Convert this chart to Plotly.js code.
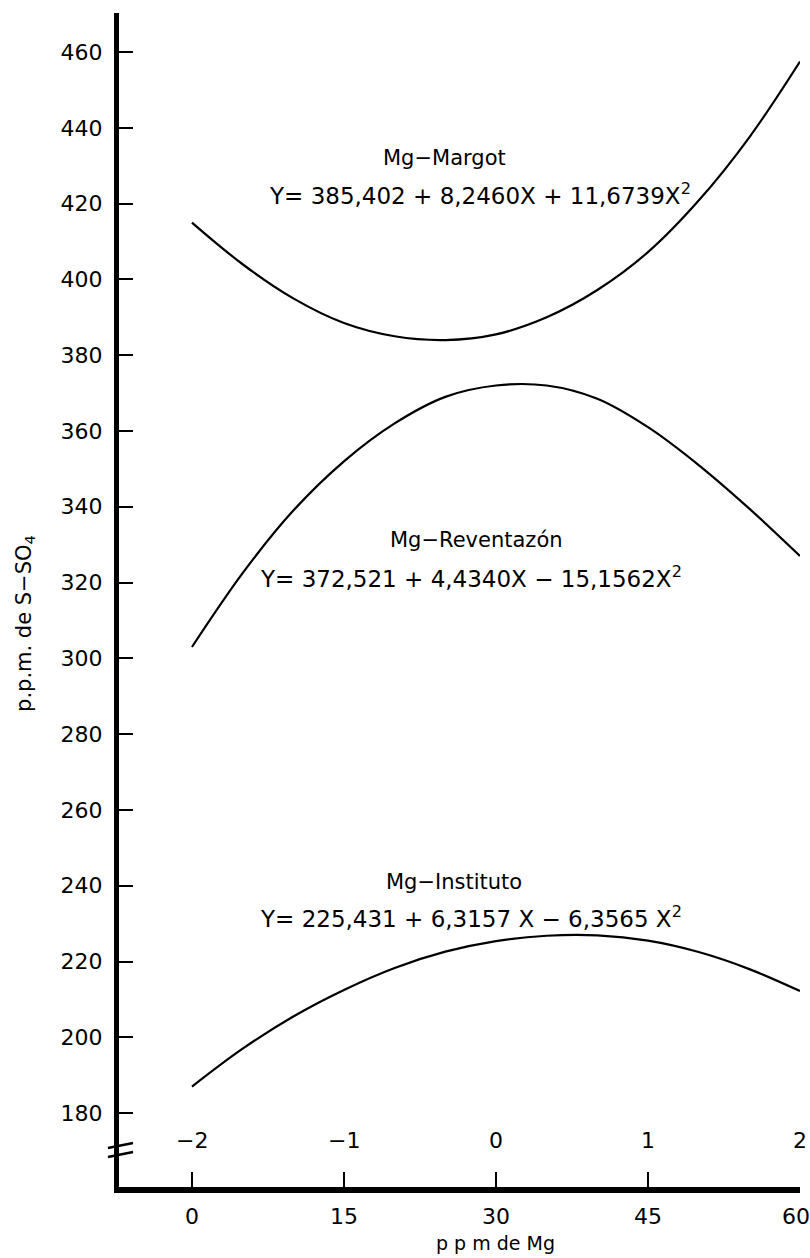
<!DOCTYPE html>
<html>
<head>
<meta charset="utf-8">
<script src="https://cdn.plot.ly/plotly-3.0.1.min.js"></script>
<style>html,body{margin:0;padding:0;background:#fff;}#chart{width:810px;height:1258px;}</style>
</head>
<body>
<div id="chart"></div>
<script>
// ppm de Mg (x positions)
const ppmMg = [0, 5, 10, 15, 20, 25, 30, 35, 40, 45, 50, 55, 60];
// values (p.p.m. de S-SO4)
const margot      = [415, 404, 395, 388.5, 385, 384, 385.5, 390, 397.2, 407.2, 420.8, 437.5, 457.5];
const reventazon  = [303, 322.5, 339, 352, 362, 369, 372, 372, 368.5, 361, 351, 339.5, 327];
const instituto   = [187, 197, 205.5, 212.5, 218.3, 222.6, 225.4, 226.8, 226.9, 225.5, 222.5, 218, 212.2];

const xTicks = [0, 15, 30, 45, 60];
const codedTicks = ['\u22122', '\u22121', '0', '1', '2'];
const yTicks = [180, 200, 220, 240, 260, 280, 300, 320, 340, 360, 380, 400, 420, 440, 460];
const xTitle = 'p p m de Mg';
const yTitle = 'p.p.m. de S\u2212SO<sub>4</sub>';

const seriesNames = ['Mg\u2212Margot', 'Mg\u2212Reventaz\u00f3n', 'Mg\u2212Instituto'];
const equations = [
  'Y= 385,402 + 8,2460X + 11,6739X<sup>2</sup>',
  'Y= 372,521 + 4,4340X \u2212 15,1562X<sup>2</sup>',
  'Y= 225,431 + 6,3157 X \u2212 6,3565 X<sup>2</sup>'
];
// label anchor points (x in ppm, y in ppm S-SO4)
const nameX = [24.9, 28.1, 25.9];
const nameY = [432, 331.2, 241.0];
const eqX = [28.4, 27.5, 27.5];
const eqY = [422.6, 321.5, 231.8];

const FONT = 'DejaVu Sans, sans-serif';
const seriesData = [margot, reventazon, instituto];

const traces = seriesData.map((ys, i) => ({
  x: ppmMg, y: ys, type: 'scatter', mode: 'lines', name: seriesNames[i],
  line: {color: '#000', width: 2.2, shape: 'spline', smoothing: 1},
  hoverinfo: 'skip'
}));

const annotations = [];
for (let i = 0; i < 3; i++) {
  annotations.push({x: nameX[i], y: nameY[i], xref: 'x', yref: 'y', text: seriesNames[i],
    showarrow: false, xanchor: 'center', yanchor: 'middle', font: {family: FONT, size: 21, color: '#000'}});
  annotations.push({x: eqX[i], y: eqY[i], xref: 'x', yref: 'y', text: equations[i],
    showarrow: false, xanchor: 'center', yanchor: 'middle', font: {family: FONT, size: 23, color: '#000'}});
}
// coded levels above the axis, ppm values below it
codedTicks.forEach((t, i) => {
  annotations.push({x: xTicks[i], y: 0, xref: 'x', yref: 'paper', xanchor: 'center', yanchor: 'middle', yshift: 47,
    text: t, showarrow: false, font: {family: FONT, size: 22, color: '#000'}});
});
xTicks.forEach((t, i) => {
  annotations.push({x: t, y: 0, xref: 'x', yref: 'paper', xanchor: 'center', yanchor: 'middle', yshift: -29,
    xshift: i === xTicks.length - 1 ? -4 : 0,
    text: String(t), showarrow: false, font: {family: FONT, size: 22, color: '#000'}});
});
annotations.push({x: 30, y: 0, xref: 'x', yref: 'paper', xanchor: 'center', yanchor: 'middle', yshift: -56,
  text: xTitle, showarrow: false, font: {family: FONT, size: 19, color: '#000'}});
annotations.push({x: 0, y: 0.4796, xref: 'paper', yref: 'paper', xanchor: 'center', yanchor: 'middle',
  xshift: -94, textangle: -90,
  text: yTitle, showarrow: false, font: {family: FONT, size: 21, color: '#000'}});

const shapes = [
  {type: 'line', xref: 'paper', yref: 'paper', x0: -0.0162, x1: 0.0206, y0: 0.0332, y1: 0.0375, line: {color: '#000', width: 2.5}},
  {type: 'line', xref: 'paper', yref: 'paper', x0: -0.0162, x1: 0.0206, y0: 0.0256, y1: 0.0298, line: {color: '#000', width: 2.5}}
];

const layout = {
  width: 810, height: 1258,
  margin: {l: 119, r: 10, t: 13, b: 71, pad: 0},
  paper_bgcolor: '#fff', plot_bgcolor: '#fff',
  showlegend: false,
  font: {family: FONT, color: '#000'},
  xaxis: {
    range: [-7.2, 60], tickvals: xTicks, showticklabels: false,
    ticks: 'inside', ticklen: 15, tickwidth: 2, tickcolor: '#000',
    showline: true, linewidth: 6, linecolor: '#000',
    showgrid: false, zeroline: false
  },
  yaxis: {
    range: [160.5, 470.3], tickvals: yTicks,
    ticks: 'inside', ticklen: 14, tickwidth: 2, tickcolor: '#000',
    showline: true, linewidth: 5, linecolor: '#000',
    showgrid: false, zeroline: false,
    ticklabelstandoff: 7,
    tickfont: {family: FONT, size: 22, color: '#000'}
  },
  annotations: annotations,
  shapes: shapes
};

Plotly.newPlot('chart', traces, layout, {displayModeBar: false, staticPlot: true});
</script>
</body>
</html>
